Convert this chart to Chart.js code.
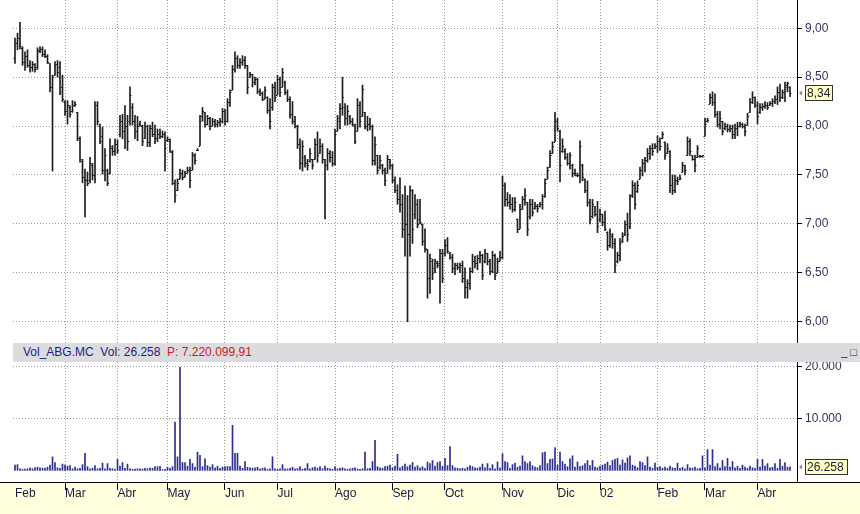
<!DOCTYPE html>
<html><head><meta charset="utf-8">
<script src="https://cdn.jsdelivr.net/npm/chart.js@4.4.1/dist/chart.umd.min.js"></script>
<style>
html,body{margin:0;padding:0;background:#fff;}
#wrap{position:relative;width:860px;height:514px;overflow:hidden;background:#fff;font-family:"Liberation Sans",Arial,sans-serif;}
#pbox{position:absolute;left:0;top:0;width:860px;height:343px;}
#vbox{position:absolute;left:0;top:362px;width:860px;height:152px;}
#hdr{position:absolute;left:13px;top:343px;width:847px;height:19px;background:#dcdce0;font-size:12px;line-height:19px;white-space:nowrap;}
#hdr .t{position:absolute;left:10px;top:0;}
#hdr .n{color:#1c1c8c;}
#hdr .r{color:#d01818;}
#hdr .ic{position:absolute;right:3px;top:0;font-size:11px;color:#222;}
</style></head>
<body>
<div id="wrap">
  <div id="pbox"><canvas id="cp"></canvas></div>
  <div id="hdr"><span class="t"><span class="n">Vol_ABG.MC&nbsp; Vol: 26.258&nbsp; </span><span class="r">P: 7.220.099,91</span></span><span class="ic">_ &#9633;</span></div>
  <div id="vbox"><canvas id="cv"></canvas></div>
</div>
<script>
const monthIdx = [0,20,41,61,84,105,128,151,172,195,217,234,257,276,297];
const monthLabels = ['Feb','Mar','Abr','May','Jun','Jul','Ago','Sep','Oct','Nov','Dic','02','Feb','Mar','Abr'];
const priceTicks = [6.0,6.5,7.0,7.5,8.0,8.5,9.0];
const volTicks = [10000,20000];
const lastVolLabel = '26.258';

const openP = [
8.70,8.85,8.90,8.80,8.65,8.72,8.62,8.60,8.63,8.60,
8.77,8.79,8.74,8.72,8.64,8.40,8.52,8.63,8.60,8.40,
8.25,8.15,8.20,8.15,8.22,8.14,7.88,7.64,7.48,7.45,
7.45,7.60,7.50,8.22,8.00,7.90,7.55,7.55,7.52,7.78,
7.74,7.82,7.92,8.05,7.95,8.00,8.05,8.20,8.05,7.95,
8.02,8.00,7.88,8.00,7.84,7.98,7.92,7.88,7.92,7.90,
7.92,7.86,7.85,7.73,7.42,7.35,7.46,7.52,7.48,7.52,
7.55,7.55,7.70,7.76,7.80,8.10,8.14,8.02,8.08,8.00,
8.05,8.02,8.04,8.05,8.15,8.05,8.25,8.37,8.58,8.70,
8.62,8.66,8.68,8.62,8.50,8.53,8.45,8.48,8.36,8.34,
8.28,8.30,8.16,8.20,8.40,8.32,8.48,8.40,8.45,8.35,
8.28,8.12,8.05,8.00,7.82,7.62,7.68,7.62,7.64,7.66,
7.66,7.82,7.72,7.80,7.66,7.60,7.72,7.68,7.62,7.95,
8.05,8.18,8.20,8.08,8.10,8.05,8.00,7.95,8.22,8.10,
8.14,8.00,8.02,8.00,7.65,7.70,7.58,7.60,7.55,7.52,
7.66,7.60,7.45,7.35,7.25,7.20,6.95,7.00,6.90,7.35,
7.10,7.20,7.05,7.00,6.82,6.74,6.45,6.62,6.55,6.60,
6.60,6.70,6.70,6.78,6.70,6.66,6.55,6.58,6.56,6.58,
6.45,6.35,6.40,6.52,6.62,6.60,6.65,6.68,6.62,6.70,
6.62,6.52,6.68,6.50,6.62,6.66,7.40,7.25,7.22,7.20,
7.15,7.05,6.95,7.15,7.25,7.22,7.08,7.20,7.16,7.18,
7.18,7.20,7.28,7.46,7.58,7.72,7.84,8.05,7.95,7.75,
7.75,7.68,7.62,7.60,7.52,7.50,7.50,7.60,7.46,7.35,
7.22,7.08,7.18,7.10,7.05,7.10,7.02,6.92,6.78,6.88,
6.80,6.62,6.68,6.82,6.90,7.00,6.98,7.30,7.40,7.34,
7.46,7.55,7.62,7.65,7.72,7.78,7.78,7.80,7.85,7.88,
7.84,7.72,7.75,7.40,7.35,7.45,7.46,7.53,7.60,7.70,
7.85,7.70,7.66,7.68,7.69,7.69,7.90,8.05,8.23,8.30,
8.25,8.12,8.02,8.05,7.98,8.00,7.97,7.98,7.92,7.98,
8.00,8.02,8.00,8.01,8.14,8.25,8.30,8.22,8.14,8.20,
8.21,8.22,8.22,8.24,8.26,8.28,8.35,8.30,8.35,8.42,
8.40];

const highP = [
8.90,8.95,9.06,8.81,8.76,8.78,8.67,8.66,8.64,8.80,
8.81,8.81,8.78,8.73,8.64,8.52,8.66,8.67,8.66,8.52,
8.26,8.26,8.21,8.26,8.25,8.14,7.89,7.66,7.56,7.53,
7.68,7.62,8.25,8.25,8.02,7.99,7.77,7.56,7.87,7.80,
7.87,7.86,8.11,8.12,8.21,8.11,8.40,8.23,8.11,8.10,
8.05,8.01,8.04,8.01,8.01,8.04,8.01,7.97,7.97,7.95,
7.94,7.89,7.87,7.75,7.45,7.46,7.56,7.55,7.54,7.58,
7.58,7.73,7.72,7.77,8.11,8.19,8.14,8.11,8.09,8.08,
8.07,8.06,8.08,8.18,8.17,8.28,8.37,8.62,8.76,8.72,
8.69,8.72,8.71,8.62,8.55,8.53,8.50,8.49,8.38,8.35,
8.40,8.30,8.28,8.43,8.45,8.52,8.50,8.59,8.46,8.37,
8.30,8.25,8.10,8.01,7.87,7.85,7.70,7.66,7.77,7.66,
7.87,7.94,7.87,7.82,7.66,7.77,7.75,7.74,7.97,8.11,
8.23,8.50,8.23,8.21,8.11,8.08,8.02,8.28,8.25,8.42,
8.14,8.10,8.08,8.01,7.89,7.70,7.70,7.61,7.57,7.70,
7.66,7.61,7.48,7.40,7.47,7.30,7.39,7.29,7.39,7.35,
7.30,7.25,7.25,7.00,6.95,6.74,6.69,6.64,6.64,6.62,
6.74,6.74,6.84,6.86,6.71,6.69,6.60,6.60,6.60,6.62,
6.55,6.43,6.55,6.69,6.67,6.68,6.72,6.69,6.74,6.70,
6.64,6.72,6.69,6.65,6.72,7.49,7.42,7.32,7.30,7.27,
7.27,7.05,7.20,7.28,7.36,7.22,7.25,7.25,7.22,7.20,
7.22,7.30,7.46,7.58,7.75,7.84,8.14,8.08,7.96,7.87,
7.77,7.72,7.73,7.61,7.56,7.52,7.85,7.61,7.46,7.44,
7.25,7.25,7.18,7.23,7.15,7.10,7.13,6.92,6.95,6.90,
6.85,6.71,6.85,6.91,7.03,7.11,7.30,7.44,7.42,7.44,
7.58,7.66,7.68,7.77,7.80,7.82,7.82,7.90,7.88,7.94,
7.84,7.82,7.75,7.50,7.50,7.48,7.50,7.63,7.60,7.89,
7.87,7.70,7.70,7.80,7.70,7.70,8.08,8.08,8.33,8.35,
8.33,8.15,8.15,8.05,8.03,8.02,8.01,8.01,8.02,8.04,
8.04,8.03,8.02,8.13,8.28,8.35,8.30,8.25,8.23,8.23,
8.25,8.24,8.25,8.28,8.31,8.40,8.43,8.37,8.45,8.45,
8.40];

const lowP = [
8.64,8.78,8.79,8.62,8.57,8.60,8.55,8.56,8.55,8.58,
8.75,8.71,8.70,8.64,8.35,7.54,8.52,8.50,8.32,8.25,
8.11,8.02,8.09,8.14,8.20,7.85,7.63,7.42,7.07,7.39,
7.42,7.45,7.42,8.01,7.82,7.51,7.44,7.39,7.51,7.70,
7.70,7.72,7.89,7.87,7.77,7.75,8.01,8.01,7.87,7.85,
8.00,7.80,7.87,7.79,7.79,7.89,7.82,7.84,7.87,7.88,
7.54,7.84,7.73,7.40,7.22,7.34,7.46,7.45,7.48,7.52,
7.37,7.55,7.61,7.75,7.80,8.05,7.99,8.01,7.96,8.00,
7.99,7.99,8.00,8.03,8.01,8.04,8.20,8.37,8.55,8.59,
8.59,8.62,8.59,8.33,8.50,8.40,8.42,8.33,8.31,8.26,
8.28,8.13,7.97,8.16,8.25,8.32,8.30,8.40,8.32,8.25,
8.08,8.02,7.98,7.77,7.56,7.54,7.58,7.55,7.63,7.56,
7.66,7.63,7.72,7.62,7.05,7.55,7.63,7.59,7.60,7.95,
7.97,8.11,8.01,8.01,8.02,8.00,7.82,7.95,7.99,8.10,
7.97,7.95,7.96,7.60,7.60,7.51,7.56,7.51,7.39,7.52,
7.56,7.42,7.32,7.20,7.12,6.86,6.67,6.00,6.67,6.80,
7.05,6.96,7.00,6.78,6.71,6.24,6.29,6.43,6.50,6.55,
6.19,6.40,6.67,6.70,6.64,6.50,6.48,6.53,6.50,6.40,
6.24,6.24,6.33,6.50,6.55,6.53,6.60,6.43,6.60,6.58,
6.48,6.50,6.43,6.50,6.62,6.64,7.18,7.18,7.15,7.12,
7.13,6.91,6.95,7.15,7.19,6.88,7.05,7.08,7.15,7.12,
7.17,7.15,7.27,7.46,7.58,7.72,7.84,7.95,7.43,7.73,
7.66,7.60,7.56,7.48,7.49,7.48,7.42,7.44,7.32,7.18,
7.00,7.06,7.08,6.91,7.02,6.98,6.93,6.73,6.76,6.75,
6.50,6.60,6.62,6.81,6.88,6.82,6.95,7.27,7.15,7.32,
7.46,7.49,7.53,7.63,7.66,7.70,7.77,7.73,7.75,7.87,
7.66,7.72,7.32,7.30,7.32,7.40,7.45,7.53,7.50,7.70,
7.70,7.65,7.53,7.68,7.68,7.68,7.90,8.04,8.23,8.21,
8.09,7.99,7.97,7.91,7.96,7.94,7.94,7.87,7.87,7.90,
7.99,7.98,7.90,8.01,8.14,8.23,8.19,8.02,8.13,8.16,
8.18,8.17,8.21,8.20,8.23,8.22,8.25,8.28,8.25,8.35,
8.30];

const closeP = [
8.85,8.90,8.82,8.65,8.72,8.62,8.60,8.63,8.58,8.78,
8.79,8.74,8.72,8.66,8.40,8.50,8.63,8.55,8.35,8.28,
8.15,8.22,8.12,8.22,8.23,7.88,7.66,7.48,7.45,7.42,
7.62,7.50,8.22,8.05,7.85,7.55,7.70,7.42,7.80,7.74,
7.82,7.76,8.05,7.95,8.00,7.85,8.32,8.05,7.95,8.00,
8.01,7.85,8.00,7.84,7.98,7.92,7.88,7.92,7.90,7.92,
7.78,7.87,7.75,7.42,7.30,7.42,7.52,7.48,7.52,7.55,
7.45,7.70,7.65,7.76,8.05,8.15,8.02,8.08,8.00,8.05,
8.02,8.04,8.05,8.15,8.05,8.25,8.35,8.58,8.70,8.62,
8.66,8.68,8.62,8.40,8.53,8.45,8.48,8.36,8.34,8.28,
8.37,8.16,8.05,8.40,8.30,8.48,8.35,8.55,8.35,8.28,
8.12,8.05,8.00,7.82,7.62,7.80,7.62,7.60,7.72,7.60,
7.82,7.70,7.80,7.66,7.60,7.72,7.68,7.62,7.92,8.08,
8.18,8.30,8.08,8.15,8.05,8.02,7.85,8.22,8.05,8.38,
8.00,8.02,8.00,7.65,7.82,7.55,7.65,7.55,7.45,7.66,
7.60,7.45,7.35,7.25,7.20,6.95,7.00,6.90,7.35,6.95,
7.20,7.00,7.02,6.82,6.75,6.45,6.65,6.50,6.62,6.58,
6.70,6.45,6.78,6.72,6.66,6.55,6.58,6.56,6.58,6.45,
6.35,6.40,6.52,6.62,6.60,6.65,6.68,6.48,6.70,6.62,
6.52,6.68,6.48,6.62,6.66,7.40,7.25,7.22,7.20,7.15,
7.22,6.95,7.15,7.25,7.30,6.95,7.20,7.12,7.18,7.16,
7.20,7.28,7.42,7.55,7.70,7.80,8.05,7.98,7.60,7.80,
7.68,7.62,7.70,7.52,7.52,7.50,7.80,7.48,7.35,7.22,
7.05,7.20,7.10,6.98,7.10,7.02,6.95,6.78,6.90,6.80,
6.58,6.68,6.80,6.88,7.00,6.90,7.28,7.40,7.20,7.40,
7.55,7.62,7.65,7.72,7.78,7.75,7.80,7.85,7.80,7.92,
7.70,7.78,7.40,7.35,7.45,7.44,7.47,7.60,7.55,7.85,
7.75,7.66,7.60,7.78,7.69,7.70,8.02,8.06,8.30,8.25,
8.12,8.02,8.08,7.95,8.00,7.97,7.98,7.92,7.98,8.00,
8.02,8.00,7.95,8.10,8.25,8.30,8.22,8.10,8.20,8.21,
8.22,8.20,8.24,8.26,8.28,8.35,8.30,8.35,8.40,8.44,
8.34];

const volume = [
1000,1100,300,200,250,300,500,300,550,600,
500,400,450,600,1000,2600,1500,500,400,1200,
1000,800,900,300,600,300,400,1100,3300,700,
300,400,900,300,400,1400,300,1300,400,300,
200,2100,800,1500,400,1200,300,200,250,300,
300,250,400,300,450,400,700,700,750,150,
200,600,400,700,9300,2600,19900,1500,1500,800,
2100,1300,600,3500,2900,700,2200,900,600,1100,
500,800,400,600,700,700,700,8700,3300,3300,
800,400,1700,600,500,400,500,600,300,400,
500,200,300,2600,300,200,300,1100,300,250,
400,600,300,350,700,200,400,1300,300,500,
600,400,700,300,800,400,300,200,700,300,
400,500,300,200,300,400,500,250,200,300,
3500,300,400,1700,5800,700,500,400,700,800,
1000,500,800,3100,500,800,1200,700,1000,1500,
600,900,500,700,400,1600,1300,1900,800,1500,
1700,800,2300,900,4600,900,500,400,300,400,
300,600,900,700,500,400,600,1200,500,1300,
400,1100,300,1600,500,3200,1700,1500,400,1100,
1400,600,800,2800,1700,1300,1700,900,600,500,
900,3400,3500,1300,2100,2200,4400,1000,3500,1700,
1200,700,2200,2800,600,1600,700,900,1300,1900,
900,1900,600,500,800,1000,1200,1600,900,1900,
2100,2300,1000,2000,1400,2400,2800,1000,800,500,
1700,1500,900,2600,600,400,1400,600,700,400,
600,400,800,500,400,1400,400,600,300,1100,
500,400,600,300,400,2800,500,4000,1000,4000,
700,1300,500,1900,700,2300,600,1700,500,800,
400,1000,600,400,800,500,400,2100,600,2100,
800,1300,500,600,1300,400,2100,800,1500,600,
650];

const FONT = {family:'"Liberation Sans", Arial, sans-serif', size:12};
const GRID = '#9c9c9c';
const DOTS = [1,2];
const fmtPrice = v => v.toFixed(2).replace('.', ',');
const fmtVol = v => String(Math.round(v)).replace(/\B(?=(\d{3})+(?!\d))/g, '.');

function drawBox(ctx, axisX, py, text, w){
  ctx.save();
  ctx.fillStyle = '#8a8a8a';
  ctx.beginPath(); ctx.moveTo(axisX+2, py); ctx.lineTo(axisX+5, py-2.5); ctx.lineTo(axisX+5, py+2.5); ctx.closePath(); ctx.fill();
  const bx = axisX + 8, by = py - 8, h = 16;
  ctx.fillStyle = '#ffffc4'; ctx.fillRect(bx, by, w, h);
  ctx.strokeStyle = '#333'; ctx.lineWidth = 1; ctx.strokeRect(bx+0.5, by+0.5, w-1, h-1);
  ctx.fillStyle = '#1a1a3a'; ctx.font = '12px "Liberation Sans", Arial, sans-serif';
  ctx.textBaseline = 'middle'; ctx.textAlign = 'left';
  ctx.fillText(text, bx+2, py+1);
  ctx.restore();
}

const ohlcTicks = {
  id:'ohlcTicks',
  afterDatasetsDraw(chart){
    const meta = chart.getDatasetMeta(0), ys = chart.scales.y, ctx = chart.ctx;
    ctx.save(); ctx.strokeStyle = '#1e1e1e'; ctx.lineWidth = 1;
    ctx.beginPath();
    meta.data.forEach((el, i) => {
      const yo = Math.round(ys.getPixelForValue(openP[i])) + 0.5;
      const yc = Math.round(ys.getPixelForValue(closeP[i])) + 0.5;
      ctx.moveTo(el.x - 1.5, yo); ctx.lineTo(el.x, yo);
      ctx.moveTo(el.x, yc); ctx.lineTo(el.x + 1.5, yc);
    });
    ctx.stroke(); ctx.restore();
  },
  afterDraw(chart){
    const ys = chart.scales.y;
    const v = closeP[closeP.length-1];
    drawBox(chart.ctx, chart.chartArea.right, Math.round(ys.getPixelForValue(v)), fmtPrice(v), 28);
  }
};

const volDecor = {
  id:'volDecor',
  beforeDraw(chart){
    const ctx = chart.ctx, b = chart.chartArea.bottom;
    ctx.save();
    ctx.fillStyle = '#ffffde'; ctx.fillRect(0, b, chart.width, chart.height - b);
    ctx.strokeStyle = '#000'; ctx.lineWidth = 1;
    ctx.beginPath(); ctx.moveTo(0, b+0.5); ctx.lineTo(chart.width, b+0.5); ctx.stroke();
    ctx.restore();
  },
  afterDraw(chart){
    const ys = chart.scales.y;
    const v = volume[volume.length-1];
    drawBox(chart.ctx, chart.chartArea.right, Math.round(ys.getPixelForValue(v)), lastVolLabel, 43);
  }
};

const fitY = s => { s.width = 63; s.paddingTop = 0; s.paddingBottom = 0; };
const fitX = h => s => { s.height = h; s.paddingLeft = 0; s.paddingRight = 0; };

const dayIdx = highP.map((_, i) => i);
const xCommon = {
  type:'linear', min:-0.8, max:312.8, offset:false,
  afterBuildTicks: s => { s.ticks = monthIdx.map(v => ({value:v})); }
};

new Chart(document.getElementById('cp'), {
  type:'bar',
  data:{ datasets:[{
    data: dayIdx.map(i => ({x:i, y:[lowP[i], highP[i]]})),
    backgroundColor:'#1e1e1e', borderWidth:0, barThickness:1
  }]},
  options:{
    responsive:true, maintainAspectRatio:false, animation:false, devicePixelRatio:1, events:[],
    layout:{padding:{left:13, top:0, right:0, bottom:0}},
    plugins:{legend:{display:false}, tooltip:{enabled:false}},
    scales:{
      x: Object.assign({}, xCommon, {
        position:'bottom',
        ticks:{display:false},
        grid:{offset:false, drawTicks:false, color: c => c.index === 0 ? 'rgba(0,0,0,0)' : GRID},
        border:{display:false, dash:DOTS},
        afterFit: fitX(0)
      }),
      y:{
        type:'linear', position:'right', min:5.782, max:9.289,
        afterBuildTicks: s => { s.ticks = priceTicks.map(v => ({value:v})); },
        ticks:{color:'#33335a', font:FONT, padding:3, callback: v => fmtPrice(v)},
        grid:{color:GRID, tickLength:5, tickColor:'#000', drawTicks:true},
        border:{display:true, color:'#000', width:1, dash:DOTS},
        afterFit: fitY
      }
    }
  },
  plugins:[ohlcTicks]
});

new Chart(document.getElementById('cv'), {
  type:'bar',
  data:{ datasets:[{
    data: dayIdx.map(i => ({x:i, y:volume[i]})),
    backgroundColor:'#2e2e92', borderWidth:0, barThickness:1
  }]},
  options:{
    responsive:true, maintainAspectRatio:false, animation:false, devicePixelRatio:1, events:[],
    layout:{padding:{left:13, top:0, right:0, bottom:0}},
    plugins:{legend:{display:false}, tooltip:{enabled:false}},
    scales:{
      x: Object.assign({}, xCommon, {
        position:'bottom',
        ticks:{display:true, autoSkip:false, maxRotation:0, minRotation:0, align:'start', padding:-4,
               color:'#1a1a40', font:FONT, callback:(v, i) => monthLabels[i]},
        grid:{offset:false, drawTicks:true, tickLength:8,
              color: c => c.index === 0 ? 'rgba(0,0,0,0)' : GRID,
              tickColor: c => c.index === 0 ? 'rgba(0,0,0,0)' : '#000'},
        border:{display:false, dash:DOTS},
        afterFit: fitX(32)
      }),
      y:{
        type:'linear', position:'right', min:-2260, max:20930,
        afterBuildTicks: s => { s.ticks = volTicks.map(v => ({value:v})); },
        ticks:{color:'#33335a', font:FONT, padding:3, callback: v => fmtVol(v)},
        grid:{color:GRID, tickLength:5, tickColor:'#000', drawTicks:true},
        border:{display:true, color:'#000', width:1, dash:DOTS},
        afterFit: fitY
      }
    }
  },
  plugins:[volDecor]
});
</script>
</body></html>
